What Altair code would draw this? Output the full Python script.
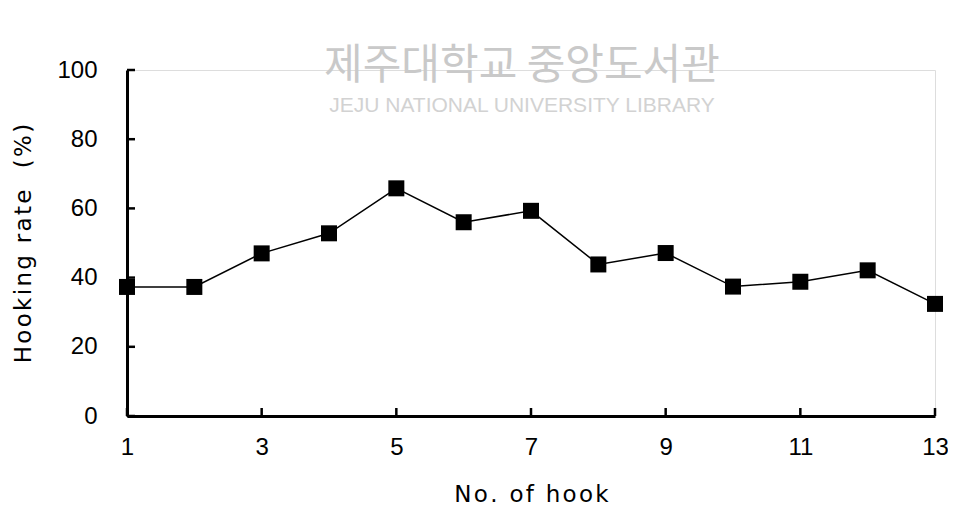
import altair as alt
import pandas as pd

hooks = [1, 2, 3, 4, 5, 6, 7, 8, 9, 10, 11, 12, 13]
rates = [37.3, 37.3, 47.0, 52.8, 65.8, 56.0, 59.3, 43.8, 47.1, 37.4, 38.8, 42.1, 32.4]
x_ticks = [1, 3, 5, 7, 9, 11, 13]
y_ticks = [0, 20, 40, 60, 80, 100]

HS = "\u200a"
def spaced(s):
    return HS.join(list(s))

x_title = spaced("No. of hook")
y_title = spaced("Hooking rate  (%)")

W, H = 808, 346

df = pd.DataFrame({"hook": hooks, "rate": rates})
xt = pd.DataFrame({"t": x_ticks})
yt = pd.DataFrame({"t": y_ticks})

xscale = alt.Scale(domain=[1, 13], nice=False, zero=False)
yscale = alt.Scale(domain=[0, 100], nice=False)

xaxis = alt.Axis(values=x_ticks, format="d", title=x_title, grid=False, ticks=False, tickSize=0,
                 domainColor="black", domainWidth=3, labelFont="Liberation Sans",
                 labelFontSize=24, labelColor="black", labelPadding=19, labelFlush=False,
                 titleFont="DejaVu Sans", titleFontSize=23, titleFontWeight="normal",
                 titleColor="black", titleY=78, titleBaseline="middle")
yaxis = alt.Axis(values=y_ticks, format="d", title=y_title, grid=False, ticks=False, tickSize=0,
                 domainColor="black", domainWidth=3, labelFont="Liberation Sans",
                 labelFontSize=24, labelColor="black", labelPadding=30,
                 titleFont="DejaVu Sans", titleFontSize=23, titleFontWeight="normal",
                 titleColor="black", titleX=-104, titleBaseline="middle", titleAngle=-90)

line = alt.Chart(df).mark_line(color="black", strokeWidth=1.5).encode(
    x=alt.X("hook:Q", scale=xscale, axis=xaxis),
    y=alt.Y("rate:Q", scale=yscale, axis=yaxis),
)
pts = alt.Chart(df).mark_point(shape="square", filled=True, color="black", size=256, opacity=1).encode(
    x=alt.X("hook:Q", scale=xscale),
    y=alt.Y("rate:Q", scale=yscale),
)
xt_rules = alt.Chart(xt).mark_rule(color="black", strokeWidth=2.5).encode(
    x=alt.X("t:Q", scale=xscale),
    y=alt.value(H), y2=alt.value(H - 8),
)
yt_rules = alt.Chart(yt).mark_rule(color="black", strokeWidth=2.5).encode(
    y=alt.Y("t:Q", scale=yscale),
    x=alt.value(0), x2=alt.value(8),
)

wm = pd.DataFrame({"a": ["제주대학교 중앙도서관"], "b": ["JEJU NATIONAL UNIVERSITY  LIBRARY"]})
wm1 = alt.Chart(wm).mark_text(font="Noto Sans CJK KR", fontSize=42, color="#c9c9c9",
                              align="center", baseline="middle").encode(
    text="a:N", x=alt.value(395), y=alt.value(-4))
wm2 = alt.Chart(wm).mark_text(font="Liberation Sans", fontSize=21, color="#d2d2d2",
                              align="center", baseline="middle").encode(
    text="b:N", x=alt.value(395), y=alt.value(36))

chart = alt.layer(wm1, wm2, line, xt_rules, yt_rules, pts).properties(
    width=W, height=H,
    autosize=alt.AutoSizeParams(type="none"),
    padding={"left": 119, "top": 62, "right": 13, "bottom": 90},
).configure_view(stroke=None).configure(background="white")

chart.save("out.html", embed_options={"renderer": "svg", "actions": False})
